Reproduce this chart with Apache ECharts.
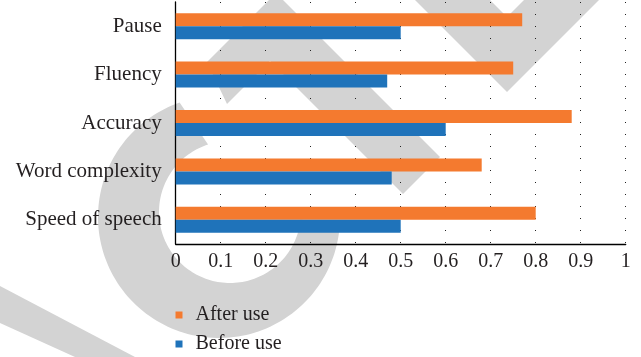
<!DOCTYPE html>
<html><head><meta charset="utf-8">
<script src="https://cdn.jsdelivr.net/npm/echarts@6/dist/echarts.min.js"></script>
<style>html,body{margin:0;padding:0;background:#fff}#c{width:641px;height:357px}</style>
</head><body><div id="c"></div>
<script>
// Data (bottom to top on the category axis)
const categories = ['Speed of speech', 'Word complexity', 'Accuracy', 'Fluency', 'Pause'];
const afterUse = [0.80, 0.68, 0.88, 0.75, 0.77];
const beforeUse = [0.50, 0.48, 0.60, 0.47, 0.50];
const seriesNames = ['After use', 'Before use'];
const xTickLabels = ['0', '0.1', '0.2', '0.3', '0.4', '0.5', '0.6', '0.7', '0.8', '0.9', '1'];

const FONT = 'Liberation Serif';
const GRAY = '#d3d3d3';

// decorative watermark (background)
function ringPoints() {
  const pts = [];
  const a0 = 5, a1 = 252;
  for (let a = a0; a <= a1; a += 2) { const r = a * Math.PI / 180; pts.push([219 + 121 * Math.cos(r), 217 + 121 * Math.sin(r)]); }
  for (let a = a1; a >= a0; a -= 2) { const r = a * Math.PI / 180; pts.push([230 + 71 * Math.cos(r), 212 + 71 * Math.sin(r)]); }
  return pts;
}
const watermark = [
  { type: 'polygon', z: -10, silent: true, shape: { points: ringPoints() }, style: { fill: GRAY } },
  { type: 'polygon', z: -10, silent: true, shape: { points: [[207,62],[276,-7],[440,157],[403,194],[270,61],[227,104]] }, style: { fill: GRAY } },
  { type: 'polygon', z: -10, silent: true, shape: { points: [[415,0],[490,0],[507,17],[524,0],[599,0],[507,92]] }, style: { fill: GRAY } },
  { type: 'polygon', z: -10, silent: true, shape: { points: [[0,286],[135,357],[75,357],[0,323]] }, style: { fill: GRAY } }
];

const chart = echarts.init(document.getElementById('c'), null, { renderer: 'canvas' });
chart.setOption({
  animation: false,
  backgroundColor: '#fff',
  graphic: watermark,
  grid: { left: 175.7, right: 15.3, top: 2, bottom: 113, containLabel: false },
  legend: {
    orient: 'vertical',
    left: 175.5,
    top: 305,
    padding: 0,
    height: 52,
    data: seriesNames,
    icon: 'rect',
    itemWidth: 7,
    itemHeight: 7,
    itemGap: 9,
    textStyle: { fontFamily: FONT, fontSize: 20, lineHeight: 20, color: '#231f20', padding: [0, 0, 0, 8] }
  },
  xAxis: {
    type: 'value',
    min: 0, max: 1, interval: 0.1,
    axisLine: { show: true, lineStyle: { color: '#000', width: 1.3 } },
    axisTick: { show: false },
    axisLabel: {
      fontFamily: FONT, fontSize: 20, color: '#231f20', margin: 8,
      formatter: function (v) { return xTickLabels[Math.round(v * 10)]; }
    },
    splitLine: { show: true, lineStyle: { color: '#222', width: 1, type: [1, 11] } }
  },
  yAxis: {
    type: 'category',
    data: categories,
    axisLine: { show: true, lineStyle: { color: '#000', width: 1.3 } },
    axisTick: { show: false },
    axisLabel: { fontFamily: FONT, fontSize: 21, color: '#231f20', margin: 14 },
    splitLine: { show: false }
  },
  series: [
    { name: 'After use', type: 'bar', data: afterUse, barWidth: 13, barGap: '0%', itemStyle: { color: '#f47a2f' } },
    { name: 'Before use', type: 'bar', data: beforeUse, barWidth: 13, barGap: '0%', itemStyle: { color: '#1f73ba' } }
  ]
});
</script>
</body></html>
